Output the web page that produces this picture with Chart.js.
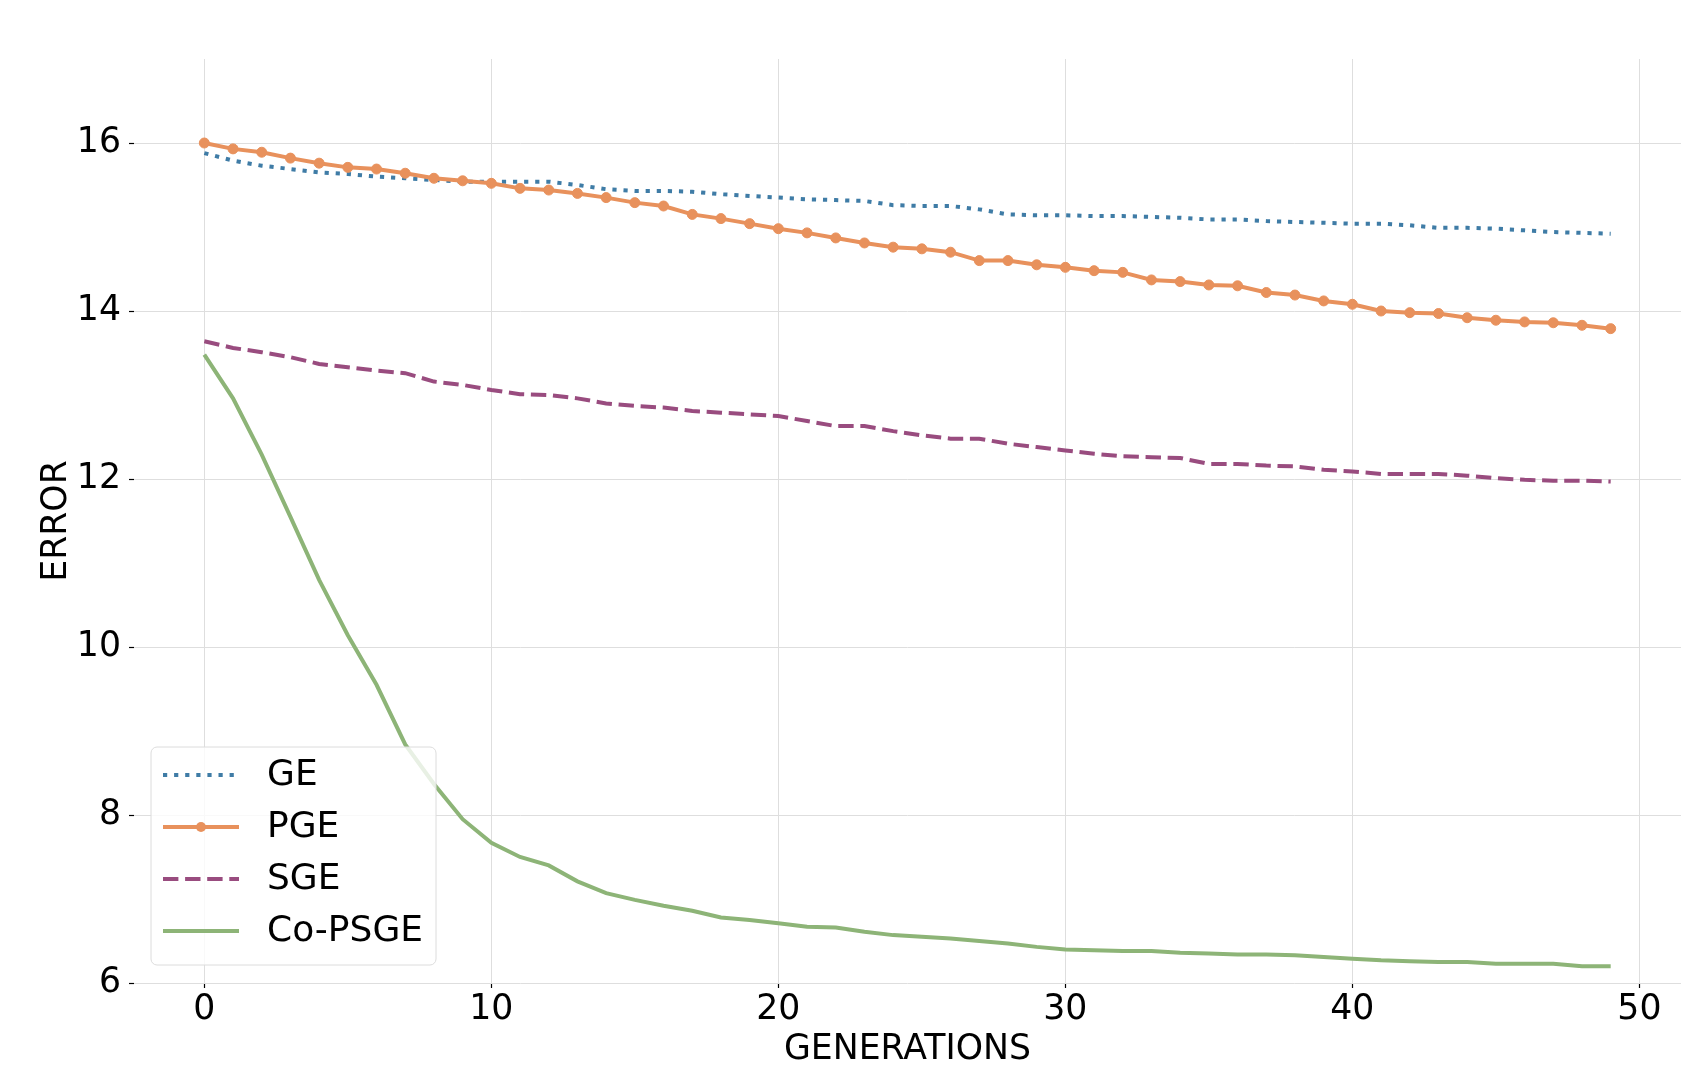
<!DOCTYPE html>
<html>
<head>
<meta charset="utf-8">
<title>Error per generation</title>
<script src="https://cdn.jsdelivr.net/npm/chart.js@4.4.1/dist/chart.umd.min.js"></script>
<style>
  html, body { margin: 0; padding: 0; background: #fff; }
  #wrap { width: 1700px; height: 1080px; }
</style>
</head>
<body>
<div id="wrap"><canvas id="errChart" width="1700" height="1080"></canvas></div>
<script>
// values
const generations = [0, 1, 2, 3, 4, 5, 6, 7, 8, 9, 10, 11, 12, 13, 14, 15, 16, 17, 18, 19,
  20, 21, 22, 23, 24, 25, 26, 27, 28, 29, 30, 31, 32, 33, 34, 35, 36, 37, 38, 39,
  40, 41, 42, 43, 44, 45, 46, 47, 48, 49];

const geErr = [15.88, 15.79, 15.73, 15.69, 15.65, 15.63, 15.60, 15.58, 15.56, 15.54,
  15.54, 15.54, 15.54, 15.50, 15.45, 15.43, 15.43, 15.42, 15.39, 15.37,
  15.35, 15.33, 15.32, 15.31, 15.26, 15.25, 15.25, 15.21, 15.15, 15.14,
  15.14, 15.13, 15.13, 15.12, 15.11, 15.09, 15.09, 15.07, 15.06, 15.05,
  15.04, 15.04, 15.02, 14.99, 14.99, 14.98, 14.96, 14.94, 14.93, 14.92];

const pgeErr = [16.00, 15.93, 15.89, 15.82, 15.76, 15.71, 15.69, 15.64, 15.58, 15.55,
  15.52, 15.46, 15.44, 15.40, 15.35, 15.29, 15.25, 15.15, 15.10, 15.04,
  14.98, 14.93, 14.87, 14.81, 14.76, 14.74, 14.70, 14.60, 14.60, 14.55,
  14.52, 14.48, 14.46, 14.37, 14.35, 14.31, 14.30, 14.22, 14.19, 14.12,
  14.08, 14.00, 13.98, 13.97, 13.92, 13.89, 13.87, 13.86, 13.83, 13.79];

const sgeErr = [13.64, 13.56, 13.51, 13.45, 13.37, 13.33, 13.29, 13.26, 13.16, 13.12,
  13.06, 13.01, 13.00, 12.96, 12.90, 12.87, 12.85, 12.81, 12.79, 12.77,
  12.75, 12.69, 12.63, 12.63, 12.57, 12.52, 12.48, 12.48, 12.42, 12.38,
  12.34, 12.30, 12.27, 12.26, 12.25, 12.18, 12.18, 12.16, 12.15, 12.11,
  12.09, 12.06, 12.06, 12.06, 12.04, 12.01, 11.99, 11.98, 11.98, 11.97];

const coPsgeErr = [13.48, 12.96, 12.29, 11.55, 10.80, 10.14, 9.55, 8.84, 8.37, 7.95,
  7.67, 7.50, 7.40, 7.21, 7.07, 6.99, 6.92, 6.86, 6.78, 6.75,
  6.71, 6.67, 6.66, 6.61, 6.57, 6.55, 6.53, 6.50, 6.47, 6.43,
  6.40, 6.39, 6.38, 6.38, 6.36, 6.35, 6.34, 6.34, 6.33, 6.31,
  6.29, 6.27, 6.26, 6.25, 6.25, 6.23, 6.23, 6.23, 6.20, 6.20];

const xTicks = [0, 10, 20, 30, 40, 50];
const yTicks = [6, 8, 10, 12, 14, 16];

const FONT = "'DejaVu Sans', sans-serif";
const AXIS_FONT = 34.7;
const LEGEND_FONT = 36;
Chart.defaults.font.family = FONT;
Chart.defaults.color = '#000';

function toPoints(values) {
  return values.map((v, i) => ({ x: generations[i], y: v }));
}

// legend drawn inside the plot, lower left, like the original
const plotLegend = {
  id: 'plotLegend',
  afterDraw(chart) {
    const ctx = chart.ctx;
    const bx = 151, by = 747, bw = 285, bh = 218;
    ctx.save();
    ctx.beginPath();
    ctx.roundRect(bx, by, bw, bh, 6);
    ctx.fillStyle = 'rgba(255,255,255,0.8)';
    ctx.fill();
    ctx.strokeStyle = '#dcdcdc';
    ctx.lineWidth = 1;
    ctx.stroke();

    chart.data.datasets.forEach((ds, i) => {
      const cy = by + 28 + i * 52;
      ctx.beginPath();
      ctx.setLineDash(ds.borderDash || []);
      ctx.lineCap = 'butt';
      ctx.strokeStyle = ds.borderColor;
      ctx.lineWidth = ds.borderWidth;
      ctx.moveTo(163, cy);
      ctx.lineTo(239, cy);
      ctx.stroke();
      ctx.setLineDash([]);
      if (ds.pointRadius > 0) {
        ctx.beginPath();
        ctx.arc(201, cy, ds.pointRadius, 0, Math.PI * 2);
        ctx.fillStyle = ds.pointBackgroundColor;
        ctx.fill();
      }
      ctx.fillStyle = '#000';
      ctx.font = LEGEND_FONT + 'px ' + FONT;
      ctx.textBaseline = 'middle';
      ctx.textAlign = 'left';
      ctx.fillText(ds.label, 267, cy + 1);
    });
    ctx.restore();
  }
};

const ctx = document.getElementById('errChart').getContext('2d');
new Chart(ctx, {
  type: 'line',
  data: {
    datasets: [
      {
        label: 'GE',
        data: toPoints(geErr),
        borderColor: '#3f7ca6',
        borderWidth: 4,
        borderDash: [4.2, 6.9],
        pointRadius: 0,
        order: 4
      },
      {
        label: 'PGE',
        data: toPoints(pgeErr),
        borderColor: '#e8915c',
        borderWidth: 4,
        pointRadius: 5,
        pointBackgroundColor: '#e8915c',
        pointBorderColor: '#e8915c',
        pointBorderWidth: 1,
        order: 3
      },
      {
        label: 'SGE',
        data: toPoints(sgeErr),
        borderColor: '#994c7f',
        borderWidth: 4,
        borderDash: [15.4, 6.7],
        pointRadius: 0,
        order: 2
      },
      {
        label: 'Co-PSGE',
        data: toPoints(coPsgeErr),
        borderColor: '#8db477',
        borderWidth: 4,
        pointRadius: 0,
        order: 1
      }
    ]
  },
  options: {
    responsive: false,
    animation: false,
    devicePixelRatio: 1,
    tension: 0,
    layout: {
      padding: { top: 59, right: 19, left: 0, bottom: 0 }
    },
    plugins: {
      legend: { display: false },
      tooltip: { enabled: false }
    },
    scales: {
      x: {
        type: 'linear',
        min: -2.45,
        max: 51.45,
        afterBuildTicks: (scale) => {
          scale.ticks = xTicks.map(v => ({ value: v }));
        },
        afterFit: (scale) => { scale.height = 97; },
        border: { display: false },
        grid: {
          color: '#dedede',
          lineWidth: 1,
          tickLength: 5,
          tickColor: '#000',
          tickWidth: 1.2
        },
        ticks: {
          color: '#000',
          font: { size: AXIS_FONT },
          padding: 1,
          maxRotation: 0
        },
        title: {
          display: true,
          text: 'GENERATIONS',
          color: '#000',
          font: { size: AXIS_FONT },
          padding: { bottom: 9 }
        }
      },
      y: {
        type: 'linear',
        min: 6,
        max: 17,
        afterBuildTicks: (scale) => {
          scale.ticks = yTicks.map(v => ({ value: v }));
        },
        afterFit: (scale) => { scale.width = 134; },
        border: { display: false },
        grid: {
          color: '#dedede',
          lineWidth: 1,
          tickLength: 5,
          tickColor: '#000',
          tickWidth: 1.2
        },
        ticks: {
          color: '#000',
          font: { size: AXIS_FONT },
          padding: 8
        },
        title: {
          display: true,
          text: 'ERROR',
          color: '#000',
          font: { size: AXIS_FONT },
          padding: { top: 36 }
        }
      }
    }
  },
  plugins: [plotLegend]
});
</script>
</body>
</html>
